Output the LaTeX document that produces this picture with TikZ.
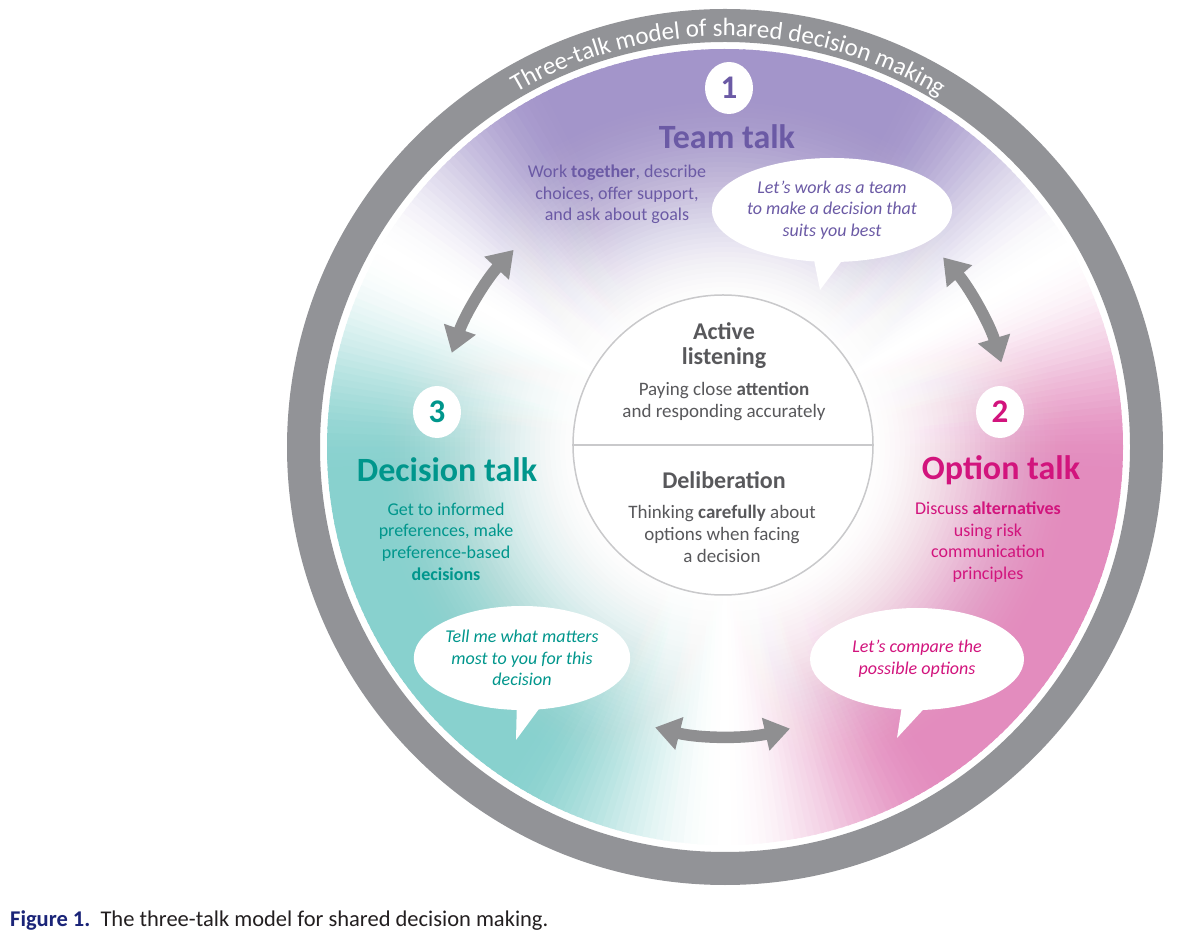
\documentclass[tikz,border=0pt]{standalone}
\usepackage{fontspec}
\setmainfont{Carlito}
\usetikzlibrary{arrows.meta,decorations.text,calc,shapes.geometric}
\definecolor{ringgray}{HTML}{929397}
\definecolor{arrgray}{HTML}{8F8F91}
\definecolor{linegray}{HTML}{C9C9CB}
\definecolor{purpleR}{HTML}{A395CA}
\definecolor{tealR}{HTML}{88D1CE}
\definecolor{pinkR}{HTML}{E38CBE}
\definecolor{purpleT}{HTML}{6B5AA5}
\definecolor{tealT}{HTML}{00968C}
\definecolor{pinkT}{HTML}{D2147D}
\definecolor{centerT}{HTML}{58585B}
\definecolor{navy}{HTML}{1A2478}
\definecolor{capT}{HTML}{231F20}
\begin{document}
\begin{tikzpicture}[x=1pt,y=1pt,
  numcirc/.style={ellipse, fill=white, minimum width=48pt, minimum height=52pt, inner sep=0pt, font=\fontsize{33}{33}\selectfont\bfseries},
  titletxt/.style={inner sep=0pt, font=\fontsize{34}{34}\selectfont\bfseries},
  bodytxt/.style={inner sep=0pt, align=center, font=\fontsize{18}{21.7}\selectfont},
  ctitle/.style={inner sep=0pt, align=center, text=centerT, font=\fontsize{24}{25}\selectfont\bfseries},
  cbody/.style={inner sep=0pt, align=center, text=centerT, font=\fontsize{19}{22}\selectfont},
  bubble/.style={ellipse, fill=white, inner sep=0pt, align=center, font=\fontsize{18}{21.7}\selectfont\itshape},
  arr/.style={draw=arrgray, line width=11.5pt, {Triangle[length=25pt,width=32pt]}-{Triangle[length=25pt,width=32pt]}}
]
\useasboundingbox (0,0) rectangle (1177,937);
\fill[white] (0,0) rectangle (1177,937);
\coordinate (C) at (725,490);
% angular colour disc
\begin{scope}[shift={(725,490)}]
\foreach \a in {0,1,...,359}{
  \pgfmathsetmacro\b{mod(\a+0.5+330,360)}
  \pgfmathtruncatemacro\s{floor(\b/120)}
  \pgfmathsetmacro\p{mod(\b,120)}
  \pgfmathsetmacro\d{min(\p,120-\p)}
  \pgfmathsetmacro\t{min(1,\d/34)}
  \pgfmathtruncatemacro\i{round(100*\t*\t*(3-2*\t))}
  \pgfmathsetmacro\e{\a+1.4}
  \ifcase\s\relax \colorlet{wc}{purpleR!\i!white}\or\colorlet{wc}{tealR!\i!white}\else\colorlet{wc}{pinkR!\i!white}\fi
  \fill[wc] (0,0) -- (\a:398pt) arc[start angle=\a, end angle=\e, radius=398pt] -- cycle;
}
% radial white fade built from stacked translucent discs
\foreach \r in {360,355,...,145}{
  \pgfmathsetmacro\ua{max(0,(\r-140)/220)}
  \pgfmathsetmacro\ub{max(0,(\r-145)/220)}
  \pgfmathsetmacro\sa{\ua*\ua*(3-2*\ua)}
  \pgfmathsetmacro\sb{\ub*\ub*(3-2*\ub)}
  \pgfmathsetmacro\al{1-\sb/\sa}
  \fill[white, fill opacity=\al] (0,0) circle (\r pt);
}
\end{scope}
% outer ring
\draw[ringgray, line width=33pt] (C) circle (421.5pt);
\path[decorate, decoration={text along path, text align=center,
  text={|\color{white}\fontsize{25}{25}\selectfont|Three-talk model of shared decision making}}]
  ($(C)+(135:411pt)$) arc[start angle=135, end angle=44, radius=411pt];
% arrows
\coordinate (ulA) at ($(C)+(161:289pt)$);
\coordinate (urA) at ($(C)+(41:289pt)$);
\coordinate (boA) at ($(C)+(256:289pt)$);
\draw[arr] (ulA) arc[start angle=161, end angle=137, radius=289pt];
\draw[arr] (urA) arc[start angle=41, end angle=17, radius=289pt];
\draw[arr] (boA) arc[start angle=256, end angle=283, radius=289pt];
% centre circle
\node[circle, draw=linegray, line width=1.5pt, fill=white, minimum size=300pt, inner sep=0pt] (mid) at (723,492) {};
\draw[linegray, line width=1.5pt] (mid.west) -- (mid.east);
\node[ctitle] (al) at (724,591.5) {Active\\listening};
\node[cbody] (alb) at (724,536) {Paying close \textbf{attention}\\and responding accurately};
\node[ctitle] (dl) at (724,457) {Deliberation};
\node[cbody] (dlb) at (722,403.5) {Thinking \textbf{carefully} about\\options when facing\\a decision};
% bubbles
\node[bubble, minimum width=210pt, minimum height=104pt, text=purpleT] (tb) at (832,727) {Let’s work as a team\\to make a decision that\\suits you best};
\coordinate (tbtip) at (820,647);
\fill[white] ($(tb.center)+(-20,-40)$) -- (tbtip) -- ($(tb.center)+(18,-40)$) -- cycle;
\node[bubble, minimum width=198pt, minimum height=104pt, text=tealT] (lb) at (522,279) {Tell me what matters\\most to you for this\\decision};
\coordinate (lbtip) at (516,197);
\fill[white] ($(lb.center)+(-5,-40)$) -- (lbtip) -- ($(lb.center)+(25,-40)$) -- cycle;
\node[bubble, minimum width=214pt, minimum height=102pt, text=pinkT] (rb) at (917,278) {Let’s compare the\\possible options};
\coordinate (rbtip) at (897,199);
\fill[white] ($(rb.center)+(-14,-40)$) -- (rbtip) -- ($(rb.center)+(16,-40)$) -- cycle;
% numbers and titles
\node[numcirc, text=purpleT] (n1) at (729,849) {1};
\node[numcirc, text=pinkT] (n2) at (1000,525) {2};
\node[numcirc, text=tealT] (n3) at (437,525) {3};
\node[titletxt, text=purpleT] (t1) at (727,800) {Team talk};
\node[titletxt, text=pinkT] (t2) at (1001,467) {Option talk};
\node[titletxt, text=tealT] (t3) at (447,467) {Decision talk};
\node[bodytxt, text=purpleT] (b1) at (617,742.5) {Work \textbf{together}, describe\\choices, offer support,\\and ask about goals};
\node[bodytxt, text=pinkT] (b2) at (988,395) {Discuss \textbf{alternatives}\\using risk\\communication\\principles};
\node[bodytxt, text=tealT] (b3) at (446,395.5) {Get to informed\\preferences, make\\preference-based\\\textbf{decisions}};
% caption
\node[anchor=base west, inner sep=0pt, text=capT, font=\fontsize{22.5}{22.5}\selectfont] (cap) at (10,11) {\textcolor{navy}{\bfseries Figure 1.}\ \ The three-talk model for shared decision making.};
\end{tikzpicture}
\end{document}
